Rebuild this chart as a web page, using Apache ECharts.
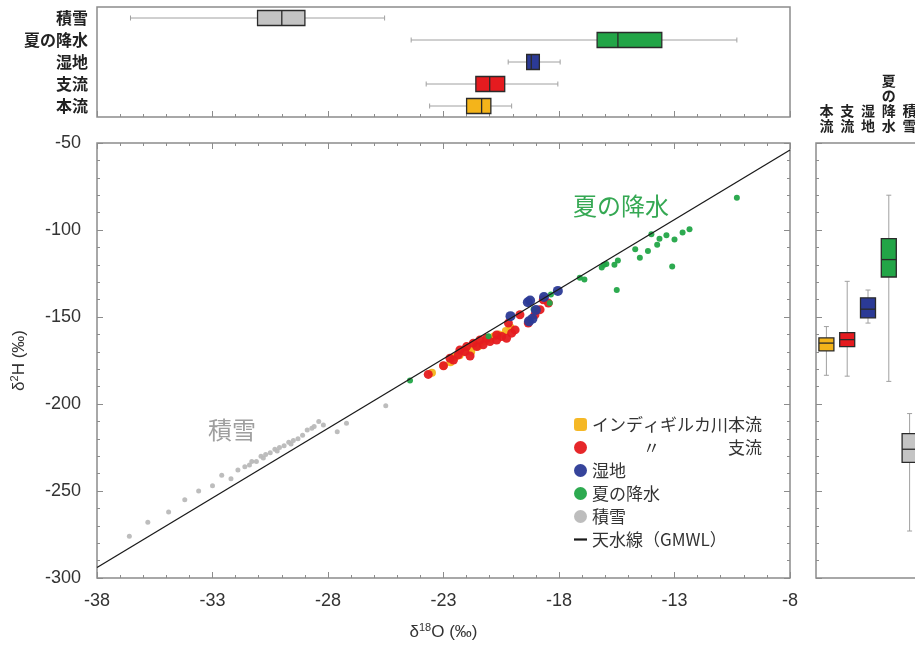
<!DOCTYPE html>
<html>
<head>
<meta charset="utf-8">
<script src="https://cdn.jsdelivr.net/npm/echarts@6/dist/echarts.min.js"></script>
<style>
  html, body { margin: 0; padding: 0; background: #fff; }
  #chart { width: 915px; height: 648px; }
</style>
</head>
<body>
<div id="chart"></div>
<script>
// Sample groups: bottom-to-top in the top panel, left-to-right in the right panel
const groups = ['本流', '支流', '湿地', '夏の降水', '積雪'];

// δ18O box statistics per group: [min, Q1, median, Q3, max]
const o18Stats = [
  [-23.6, -22.0, -21.35, -20.95, -20.05],
  [-23.75, -21.6, -21.0, -20.35, -18.05],
  [-20.2, -19.4, -19.2, -18.85, -17.95],
  [-24.4, -16.35, -15.45, -13.55, -10.3],
  [-36.55, -31.05, -30.0, -29.0, -25.55]
];

// δ2H box statistics per group: [min, Q1, median, Q3, max]
const h2Stats = [
  [-183.5, -169.5, -165.0, -162.0, -155.5],
  [-184.0, -167.0, -163.0, -159.0, -129.5],
  [-153.5, -150.5, -145.5, -139.0, -134.5],
  [-187.0, -127.0, -117.0, -105.0, -80.0],
  [-273.0, -233.5, -226.0, -217.0, -205.5]
];

// Samples [δ18O, δ2H]
const mainRiver = [
  [-23.5, -182], [-23.0, -178], [-22.7, -176], [-22.5, -173], [-22.3, -172],
  [-22.1, -170], [-21.9, -168], [-21.8, -170], [-21.6, -166], [-21.5, -167],
  [-21.4, -165], [-21.2, -164], [-21.0, -163], [-20.8, -161], [-20.6, -160],
  [-20.3, -158], [-20.1, -156]
];
const tributary = [
  [-23.66, -183], [-23.0, -178], [-22.72, -173.7], [-22.57, -174.7], [-22.36, -171.8],
  [-22.29, -168.9], [-22.07, -169.9], [-22.0, -167], [-21.85, -172.4], [-21.71, -165.1],
  [-21.56, -167], [-21.42, -163.2], [-21.28, -166], [-21.13, -162.2], [-20.99, -164.1],
  [-20.7, -163.2], [-20.7, -160.3], [-20.48, -161.2], [-20.27, -162.2], [-20.19, -153.5],
  [-20.05, -159.3], [-19.9, -157.4], [-19.69, -148.7], [-19.33, -153.5], [-19.04, -148.7],
  [-18.82, -145.8], [-18.68, -140.1], [-18.46, -142]
];
const wetland = [
  [-20.1, -149.5], [-19.35, -141.5], [-19.25, -140.5], [-19.3, -152.5],
  [-19.15, -151], [-19.0, -146], [-18.65, -138.5], [-18.05, -135]
];
const summerRain = [
  [-24.45, -186.5], [-21.05, -161], [-19.1, -145.5], [-18.35, -137], [-18.4, -142],
  [-17.1, -127.5], [-16.9, -128.5], [-16.15, -121.5], [-16.05, -120], [-15.95, -119.5],
  [-15.6, -120], [-15.45, -117.5], [-15.5, -134.5], [-14.7, -111], [-14.5, -116],
  [-14.15, -112], [-14.0, -102.5], [-13.75, -108.5], [-13.65, -105], [-13.35, -103],
  [-13.1, -121], [-13.0, -105.5], [-12.65, -101.5], [-12.35, -99.5], [-10.3, -81.5]
];
const snow = [
  [-36.6, -276], [-35.8, -268], [-34.9, -262], [-34.2, -255], [-33.6, -250],
  [-33.0, -247], [-32.6, -241], [-32.2, -243], [-31.9, -238], [-31.6, -236],
  [-31.4, -235], [-31.3, -233], [-31.1, -233], [-30.9, -230], [-30.8, -231],
  [-30.7, -229], [-30.5, -228], [-30.3, -226], [-30.2, -227], [-30.1, -225],
  [-29.9, -224], [-29.7, -222], [-29.6, -223], [-29.5, -221], [-29.3, -220],
  [-29.1, -218], [-28.9, -215], [-28.7, -214], [-28.6, -213], [-28.4, -210],
  [-28.2, -212], [-27.6, -216], [-27.2, -211], [-25.5, -201]
];
// Global meteoric water line end points
const gmwl = [[-38, -294], [-8, -54]];

const FRAME = '#8c8c8c';
const TEXT = '#333333';
const NUM_FONT = "'Liberation Sans', Arial, sans-serif";
const JP_FONT = "'Noto Sans CJK JP', 'Noto Sans', sans-serif";
const groupColor = {
  '本流': '#f4b41a', '支流': '#e51b1f', '湿地': '#2b3a96', '夏の降水': '#22a547', '積雪': '#c4c4c4'
};

function valueAxis(extra) {
  return Object.assign({
    type: 'value',
    axisLine: { show: false },
    splitLine: { show: false },
    axisTick: { show: true, inside: true, length: 6, lineStyle: { color: FRAME, width: 1 } },
    minorTick: { show: true, splitNumber: 5, length: 3, lineStyle: { color: FRAME, width: 1 } },
    axisLabel: { show: false }
  }, extra);
}

// Box-and-whisker glyph drawn through the axes; horizontal = values along x
function boxRenderer(horizontal) {
  return function (params, api) {
    const cat = api.value(0);
    const vals = [1, 2, 3, 4, 5].map(function (d) { return api.value(d); });
    const along = vals.map(function (v) {
      const p = horizontal ? api.coord([v, cat]) : api.coord([cat, v]);
      return horizontal ? p[0] : p[1];
    });
    const c0 = horizontal ? api.coord([vals[2], cat]) : api.coord([cat, vals[2]]);
    const mid = horizontal ? c0[1] : c0[0];
    const half = 7.5, cap = 2.5;
    const pt = function (a, b) { return horizontal ? [a, b] : [b, a]; };
    const seg = function (a1, b1, a2, b2, style) {
      const p1 = pt(a1, b1), p2 = pt(a2, b2);
      return { type: 'line', shape: { x1: p1[0], y1: p1[1], x2: p2[0], y2: p2[1] }, style: style };
    };
    const whisk = { stroke: '#a0a0a0', lineWidth: 1 };
    const edge = { stroke: '#2a2a2a', lineWidth: 1.3 };
    const color = groupColor[groups[cat]];
    const q1 = pt(along[1], mid - half), q3 = pt(along[3], mid + half);
    const rx = Math.min(q1[0], q3[0]), ry = Math.min(q1[1], q3[1]);
    return {
      type: 'group',
      children: [
        seg(along[0], mid, along[1], mid, whisk),
        seg(along[3], mid, along[4], mid, whisk),
        seg(along[0], mid - cap, along[0], mid + cap, whisk),
        seg(along[4], mid - cap, along[4], mid + cap, whisk),
        { type: 'rect', shape: { x: rx, y: ry, width: Math.abs(q3[0] - q1[0]), height: Math.abs(q3[1] - q1[1]) },
          style: { fill: color, stroke: '#2a2a2a', lineWidth: 1.3 } },
        seg(along[2], mid - half, along[2], mid + half, edge)
      ]
    };
  };
}

const legendText = {
  '本流': 'インディギルカ川本流',
  '支流': '　　　〃　　　　支流'
};

function scatter(name, data, size, z) {
  return {
    name: name, type: 'scatter', xAxisIndex: 0, yAxisIndex: 0,
    data: data, symbolSize: size, z: z,
    itemStyle: { color: groupColor[name] === '#c4c4c4' ? '#b9b9b9' : groupColor[name], opacity: 0.95 }
  };
}

const option = {
  animation: false,
  backgroundColor: '#ffffff',
  grid: [
    { left: 97, right: 125, top: 143, bottom: 70, show: true, borderColor: FRAME, borderWidth: 1.5, outerBoundsMode: 'none' },
    { left: 97, right: 125, top: 7, height: 110, show: true, borderColor: FRAME, borderWidth: 1.5, outerBoundsMode: 'none' },
    { left: 816, top: 143, bottom: 70, width: 104, show: true, borderColor: FRAME, borderWidth: 1.5, outerBoundsMode: 'none' }
  ],
  xAxis: [
    valueAxis({
      gridIndex: 0, min: -38, max: -8, interval: 5, position: 'bottom',
      axisLabel: { show: true, fontSize: 18, color: TEXT, fontFamily: NUM_FONT, margin: 14 },
      name: '{t|δ}{s|18}{t|O (‰)}', nameLocation: 'middle', nameGap: 44,
      nameTextStyle: {
        rich: {
          t: { fontSize: 17, lineHeight: 20, color: TEXT, fontFamily: NUM_FONT },
          s: { fontSize: 11, lineHeight: 12, color: TEXT, fontFamily: NUM_FONT, verticalAlign: 'top' }
        }
      }
    }),
    valueAxis({ gridIndex: 0, min: -38, max: -8, interval: 5, position: 'top' }),
    valueAxis({ gridIndex: 1, min: -38, max: -8, interval: 5, position: 'bottom' }),
    {
      type: 'category', gridIndex: 2, position: 'top', data: groups,
      axisLine: { show: false }, axisTick: { show: false },
      axisLabel: {
        interval: 0, fontSize: 14, lineHeight: 15, color: '#222', fontFamily: JP_FONT, fontWeight: 'bold', margin: 10,
        formatter: function (v) { return v.split('').join('\n'); }
      }
    }
  ],
  yAxis: [
    valueAxis({
      gridIndex: 0, min: -300, max: -50, interval: 50, position: 'left',
      axisLabel: { show: true, fontSize: 18, color: TEXT, fontFamily: NUM_FONT, margin: 16 },
      name: '{t|δ}{s|2}{t|H (‰)}', nameLocation: 'middle', nameGap: 68,
      nameTextStyle: {
        rich: {
          t: { fontSize: 17, lineHeight: 20, color: TEXT, fontFamily: NUM_FONT },
          s: { fontSize: 11, lineHeight: 12, color: TEXT, fontFamily: NUM_FONT, verticalAlign: 'top' }
        }
      }
    }),
    valueAxis({ gridIndex: 0, min: -300, max: -50, interval: 50, position: 'right' }),
    {
      type: 'category', gridIndex: 1, data: groups,
      axisLine: { show: false }, axisTick: { show: false },
      axisLabel: { fontSize: 16, color: '#222', fontFamily: JP_FONT, fontWeight: 'bold', margin: 9 }
    },
    valueAxis({ gridIndex: 2, min: -300, max: -50, interval: 50, position: 'left' })
  ],
  legend: {
    orient: 'vertical', left: 569, top: 411, itemGap: 6,
    itemWidth: 13, itemHeight: 13,
    textStyle: { fontSize: 17, color: TEXT, fontFamily: JP_FONT },
    formatter: function (name) { return legendText[name] || name; },
    data: [
      { name: '本流', icon: 'roundRect' },
      { name: '支流', icon: 'circle' },
      { name: '湿地', icon: 'circle' },
      { name: '夏の降水', icon: 'circle' },
      { name: '積雪', icon: 'circle' },
      { name: '天水線（GMWL）', icon: 'path://M0,0H10V1.7H0Z' }
    ]
  },
  graphic: [
    { type: 'text', left: 573, top: 194, style: { text: '夏の降水', fontSize: 24, fill: '#35a853', fontFamily: JP_FONT } },
    { type: 'text', left: 208, top: 418, style: { text: '積雪', fontSize: 24, fill: '#9f9f9f', fontFamily: JP_FONT } }
  ],
  series: [
    scatter('積雪', snow, 5, 2),
    scatter('本流', mainRiver, 8, 3),
    scatter('支流', tributary, 9, 4),
    scatter('夏の降水', summerRain, 6, 5),
    scatter('湿地', wetland, 10, 6),
    {
      name: '天水線（GMWL）', type: 'line', xAxisIndex: 0, yAxisIndex: 0,
      data: gmwl, symbol: 'none', z: 7,
      color: '#1a1a1a', lineStyle: { color: '#1a1a1a', width: 1.3 }
    },
    {
      type: 'custom', xAxisIndex: 2, yAxisIndex: 2,
      renderItem: boxRenderer(true),
      encode: { x: [1, 2, 3, 4, 5], y: 0 },
      data: groups.map(function (g, i) { return [i].concat(o18Stats[i]); })
    },
    {
      type: 'custom', xAxisIndex: 3, yAxisIndex: 3,
      renderItem: boxRenderer(false),
      encode: { x: 0, y: [1, 2, 3, 4, 5] },
      data: groups.map(function (g, i) { return [i].concat(h2Stats[i]); })
    }
  ]
};

const chart = echarts.init(document.getElementById('chart'));
chart.setOption(option);
</script>
</body>
</html>
